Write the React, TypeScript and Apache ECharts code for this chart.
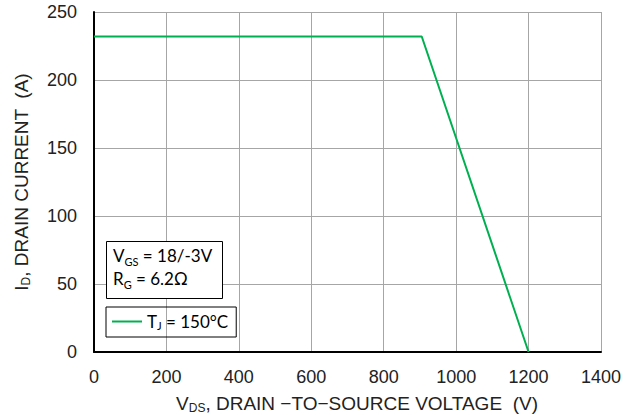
import React, { useEffect, useRef } from "react";
import * as echarts from "echarts";

const vds = [0, 905, 1200];
const idCurrent = [232, 232, 0];
const seriesName = "TJ = 150°C";
const xTicks = [0, 1400, 200];
const yTicks = [0, 250, 50];

export default function App() {
  const ref = useRef<HTMLDivElement>(null);
  useEffect(() => {
    const chart = echarts.init(ref.current!, null, { renderer: "svg" });
    const axisFont = "Arial";
    const boxFont = "Lato";
    chart.setOption({
      animation: false,
      backgroundColor: "#ffffff",
      textStyle: { fontFamily: axisFont },
      grid: { left: 94, right: 35, top: 12, bottom: 63, containLabel: false, outerBoundsMode: "none" },
      xAxis: {
        type: "value",
        min: xTicks[0],
        max: xTicks[1],
        interval: xTicks[2],
        name: "{m|V}{s|DS}{m|, DRAIN −TO−SOURCE VOLTAGE  (V)}",
        nameLocation: "middle",
        nameGap: 41,
        nameTextStyle: {
          fontFamily: axisFont,
          padding: [0, 0, 0, 19],
          rich: {
            m: { fontSize: 19, fontFamily: axisFont, color: "#222" },
            s: { fontSize: 12, fontFamily: axisFont, color: "#222", verticalAlign: "bottom", padding: [9, 0, 0, 0] },
          },
        },
        axisLine: { show: true, lineStyle: { color: "#000", width: 2 } },
        axisTick: { show: false },
        axisLabel: { fontSize: 18, fontFamily: axisFont, color: "#222", margin: 16, formatter: (v: number) => String(v) },
        splitLine: { show: true, lineStyle: { color: "#a6a6a6", width: 1 } },
      },
      yAxis: {
        type: "value",
        min: yTicks[0],
        max: yTicks[1],
        interval: yTicks[2],
        name: "{m|I}{s|D}{m|, DRAIN CURRENT  (A)}",
        nameLocation: "middle",
        nameGap: 62,
        nameRotate: 90,
        nameTextStyle: {
          fontFamily: axisFont,
          rich: {
            m: { fontSize: 19, fontFamily: axisFont, color: "#222" },
            s: { fontSize: 12, fontFamily: axisFont, color: "#222", verticalAlign: "bottom", padding: [9, 0, 0, 0] },
          },
        },
        axisLine: { show: true, lineStyle: { color: "#000", width: 2 } },
        axisTick: { show: false },
        axisLabel: { fontSize: 18, fontFamily: axisFont, color: "#222", margin: 17, formatter: (v: number) => String(v) },
        splitLine: { show: true, lineStyle: { color: "#a6a6a6", width: 1 } },
      },
      legend: {
        show: true,
        left: 106,
        top: 307,
        orient: "vertical",
        borderColor: "#000",
        borderWidth: 1,
        borderRadius: 0,
        padding: [6, 8, 6, 6],
        itemWidth: 30,
        itemHeight: 14,
        itemGap: 0,
        data: [{ name: seriesName, icon: "path://M0,6 L30,6 L30,8 L0,8 Z" }],
        formatter: () => "{m|T}{s|J}{m| = 150°C}",
        textStyle: {
          fontFamily: boxFont,
          rich: {
            m: { fontSize: 17, fontFamily: boxFont, color: "#000" },
            s: { fontSize: 11, fontFamily: boxFont, color: "#000", verticalAlign: "bottom", padding: [8, 0, 0, 0] },
          },
        },
      },
      graphic: [
        {
          type: "rect",
          left: 106,
          top: 241,
          shape: { width: 116, height: 57 },
          style: { fill: "#fff", stroke: "#000", lineWidth: 1 },
          z: 10,
        },
        {
          type: "text",
          left: 113,
          top: 247,
          z: 11,
          style: {
            text: "{m|V}{s|GS}{m| = 18/-3V}\n{m|R}{s|G}{m| = 6.2Ω}",
            fill: "#000",
            fontFamily: boxFont,
            rich: {
              m: { fontSize: 17, fontFamily: boxFont, color: "#000", lineHeight: 23 },
              s: { fontSize: 11, fontFamily: boxFont, color: "#000", verticalAlign: "bottom", lineHeight: 23, padding: [8, 0, 0, 0] },
            },
          },
        },
      ],
      series: [
        {
          name: seriesName,
          type: "line",
          data: vds.map((x, i) => [x, idCurrent[i]]),
          symbol: "none",
          lineStyle: { color: "#00b050", width: 2 },
          itemStyle: { color: "#00b050" },
          z: 5,
        },
      ],
    });
    return () => chart.dispose();
  }, []);
  return <div ref={ref} style={{ width: 636, height: 415, position: "absolute", left: 0, top: 0 }} />;
}
